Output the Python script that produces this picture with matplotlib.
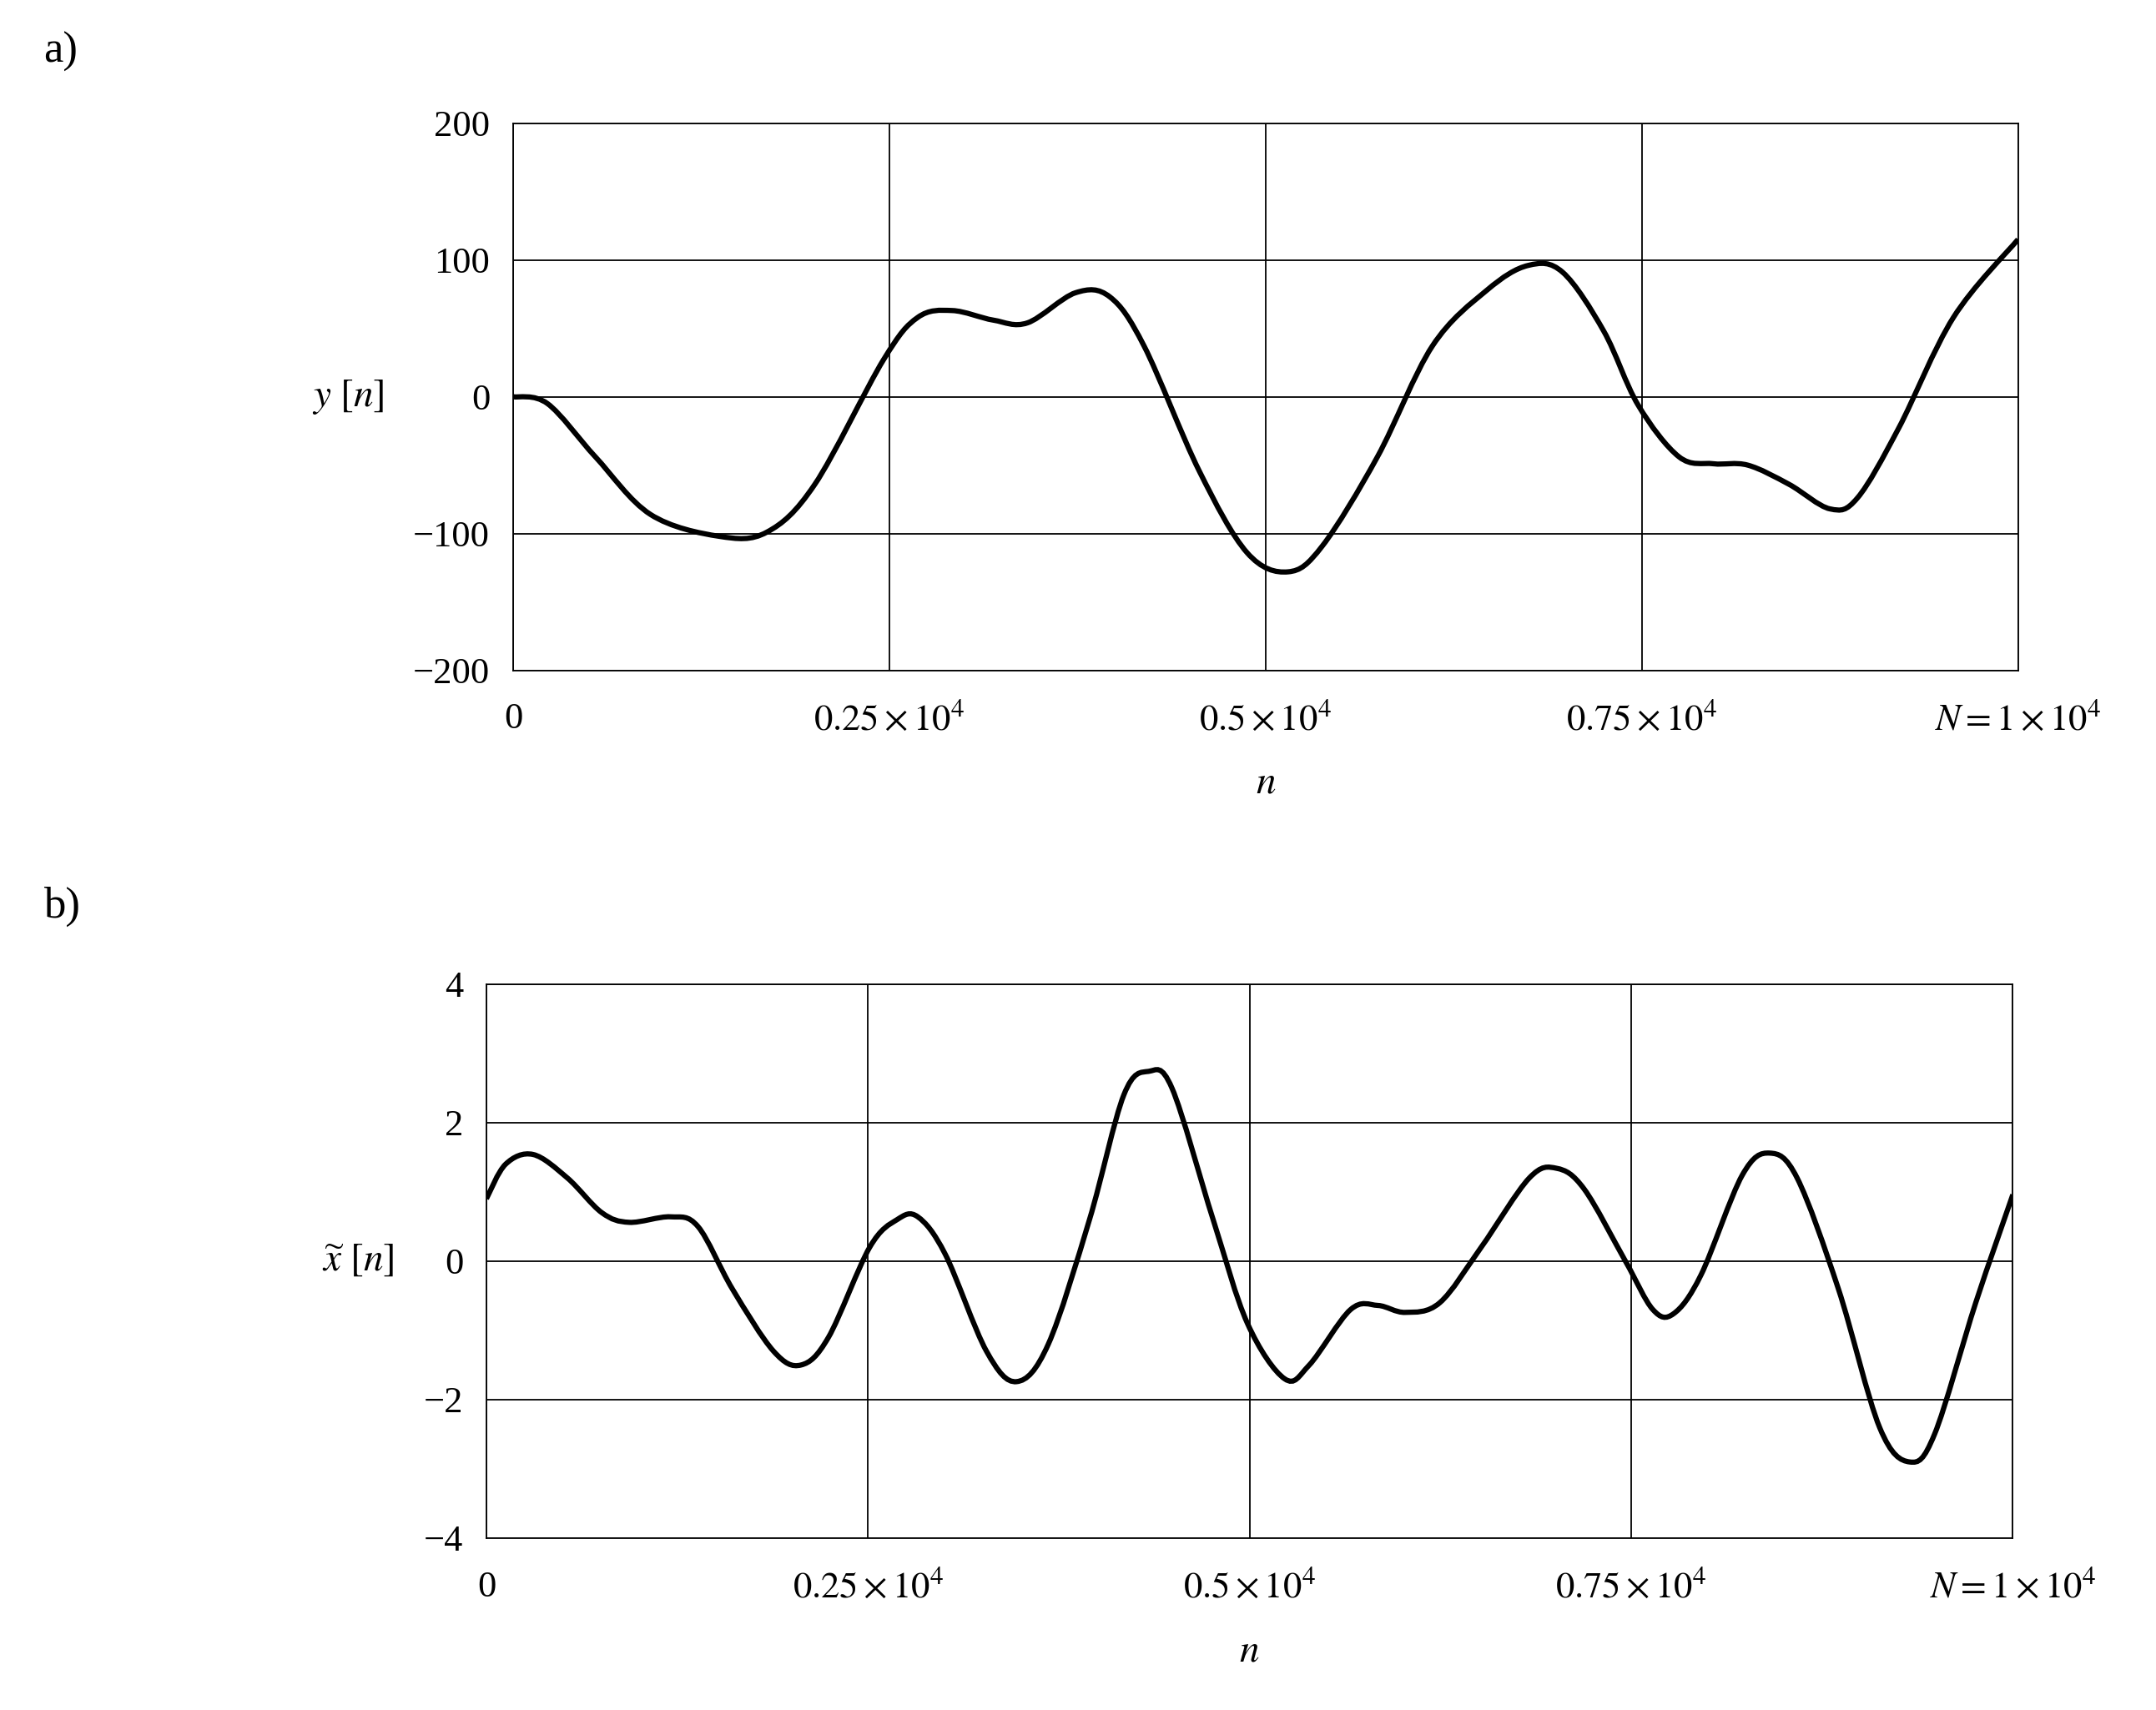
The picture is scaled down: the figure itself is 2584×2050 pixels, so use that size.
import matplotlib
matplotlib.use('Agg')
import matplotlib.pyplot as plt
from matplotlib.path import Path
from matplotlib.patches import PathPatch

plt.rcParams['font.family'] = ['Liberation Serif', 'DejaVu Serif']
plt.rcParams['mathtext.fontset'] = 'stix'

# panel a) y[n]
n_a = [0, 228, 547, 912, 1367, 1686, 2005, 2461, 2689, 2918, 3190, 3418, 3737, 3965,
       4193, 4558, 4877, 5150, 5378, 5743, 6108, 6472, 6746, 6974, 7247, 7475, 7748,
       7976, 8204, 8478, 8751, 8933, 9207, 9571, 10000]
y_a = [0, -5, -44, -86, -102, -99, -64, 27, 58, 63, 56, 54, 76, 73,
       37, -54, -114, -128, -109, -44, 37, 78, 96, 91, 48, -6, -44,
       -49, -50, -64, -82, -74, -23, 58, 115]

# panel b) x~[n]
n_b = [0, 126, 306, 531, 756, 936, 1206, 1386, 1611, 1881, 2061, 2241, 2511, 2691, 2826,
       3006, 3276, 3474, 3681, 3951, 4176, 4338, 4491, 4761, 4986, 5230, 5391, 5661,
       5841, 6021, 6246, 6517, 6832, 7012, 7192, 7462, 7642, 7777, 7957, 8227, 8407,
       8587, 8857, 9127, 9325, 9487, 9757, 10000]
y_b = [0.9, 1.4, 1.54, 1.2, 0.7, 0.56, 0.64, 0.5, -0.4, -1.3, -1.5, -1.1, 0.2, 0.6, 0.64,
       0.1, -1.3, -1.74, -1.2, 0.6, 2.4, 2.74, 2.5, 0.6, -0.9, -1.7, -1.5, -0.7,
       -0.64, -0.74, -0.6, 0.2, 1.2, 1.34, 1.04, 0, -0.7, -0.76, -0.2, 1.24, 1.56,
       1.2, -0.4, -2.4, -2.9, -2.5, -0.6, 0.96]

xticks = [0, 2500, 5000, 7500, 10000]
xlabels = ['0', r'$0.25\times10^4$', r'$0.5\times10^4$', r'$0.75\times10^4$',
           r'$N = 1\times10^4$']

fig = plt.figure(figsize=(25.84, 20.5), dpi=100)
FS = 32


def smooth_path(xs, ys):
    # Catmull-Rom through the read points, drawn as cubic Bezier segments
    verts = [(xs[0], ys[0])]
    codes = [Path.MOVETO]
    m = len(xs)
    for i in range(m - 1):
        x0, y0 = (xs[i - 1], ys[i - 1]) if i > 0 else (xs[i], ys[i])
        x3, y3 = (xs[i + 2], ys[i + 2]) if i + 2 < m else (xs[i + 1], ys[i + 1])
        x1, y1, x2, y2 = xs[i], ys[i], xs[i + 1], ys[i + 1]
        verts += [(x1 + (x2 - x0) / 6, y1 + (y2 - y0) / 6),
                  (x2 - (x3 - x1) / 6, y2 - (y3 - y1) / 6), (x2, y2)]
        codes += [Path.CURVE4] * 3
    return Path(verts, codes)


def panel(rect, n, y, yticks, ylabels, ylabel, tag, tagy):
    ax = fig.add_axes(rect)
    ax.add_patch(PathPatch(smooth_path(n, y), fill=False, color='black', lw=4.5))
    ax.set_xlim(0, 10000)
    ax.set_ylim(yticks[0], yticks[-1])
    ax.set_xticks(xticks)
    ax.set_xticklabels(xlabels, fontsize=FS)
    ax.set_yticks(yticks)
    ax.set_yticklabels(ylabels, fontsize=FS)
    ax.tick_params(length=0, pad=28)
    ax.tick_params(axis='y', pad=20)
    ax.grid(True, color='black', lw=1.3)
    for s in ax.spines.values():
        s.set_linewidth(1.3)
    ax.set_xlabel(r'$n$', fontsize=FS + 2, labelpad=25)
    ax.set_ylabel(ylabel, fontsize=FS + 2, rotation=0, ha='right', va='center', labelpad=25)
    fig.text(0.02, tagy, tag, fontsize=FS + 6, va='center')
    return ax

panel([0.238, 0.608, 0.698, 0.320], n_a, y_a, [-200, -100, 0, 100, 200],
      ['−200', '−100', '0', '100', '200'], r'$y\ [n]$', 'a)', 0.97)
panel([0.2256, 0.1005, 0.708, 0.324], n_b, y_b, [-4, -2, 0, 2, 4],
      ['−4', '−2', '0', '2', '4'], r'$\widetilde{x}\ [n]$', 'b)', 0.47)

fig.savefig('out.png', dpi=100)
